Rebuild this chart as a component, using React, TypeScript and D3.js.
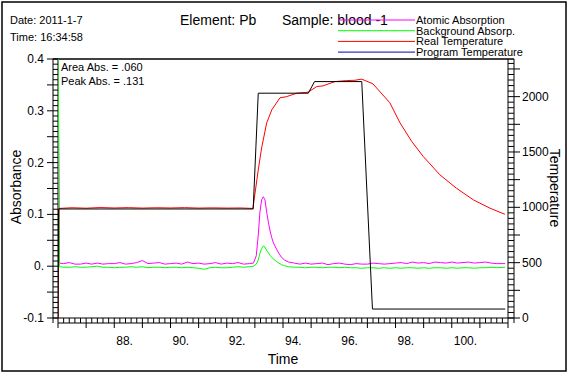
import React from "react";
import * as d3 from "d3";

// ---------- data ----------
const absTimes = [
  86.0, 86.05, 86.2, 86.4, 86.6, 86.8, 87.0, 87.2, 87.4, 87.6, 87.8, 88.0, 88.2, 88.4, 88.6, 88.8,
  89.0, 89.2, 89.4, 89.6, 89.8, 90.0, 90.2, 90.4, 90.6, 90.8, 91.0, 91.2, 91.4, 91.6, 91.8, 92.0,
  92.2, 92.4, 92.6, 92.8, 92.95, 93.05, 93.12, 93.18, 93.24, 93.3, 93.36, 93.42, 93.48, 93.54, 93.6,
  93.66, 93.75, 93.85, 93.95, 94.05, 94.2, 94.4, 94.6, 94.8, 95.0, 95.2, 95.4, 95.6, 95.8, 96.0,
  96.2, 96.4, 96.6, 96.8, 97.0, 97.2, 97.4, 97.6, 97.8, 98.0, 98.2, 98.4, 98.6, 98.8, 99.0, 99.2,
  99.4, 99.6, 99.8, 100.0, 100.2, 100.4, 100.6, 100.8, 101.0, 101.2, 101.4, 101.6, 101.9,
];
const atomicAbs = [
  0.45, 0.006, 0.005, 0.007, 0.004, 0.004, 0.006, 0.004, 0.006, 0.004, 0.005, 0.005, 0.007, 0.004, 0.005, 0.007,
  0.011, 0.005, 0.006, 0.007, 0.004, 0.005, 0.006, 0.004, 0.008, 0.005, 0.006, 0.004, 0.005, 0.007, 0.004, 0.006,
  0.005, 0.007, 0.004, 0.005, 0.006, 0.02, 0.06, 0.105, 0.128, 0.134, 0.128, 0.104, 0.085, 0.068, 0.055,
  0.045, 0.035, 0.025, 0.017, 0.012, 0.008, 0.006, 0.004, 0.006, 0.004, 0.005, 0.006, 0.003, 0.005, 0.006,
  0.004, 0.003, 0.005, 0.004, 0.004, 0.006, 0.005, 0.004, 0.005, 0.006, 0.007, 0.005, 0.008, 0.006, 0.007, 0.005,
  0.008, 0.007, 0.006, 0.008, 0.006, 0.007, 0.008, 0.006, 0.007, 0.008, 0.006, 0.005, 0.005,
];
const backgroundAbs = [
  0.45, -0.001, -0.002, -0.002, -0.001, -0.002, -0.002, -0.001, 0.0, -0.002, -0.002, -0.003, -0.002, -0.002, -0.001, -0.002,
  -0.001, -0.003, -0.002, -0.002, -0.003, -0.002, -0.002, -0.003, -0.002, -0.003, -0.004, -0.006, -0.003, -0.002, -0.003, -0.003,
  -0.002, -0.001, -0.002, -0.001, 0.0, 0.004, 0.012, 0.025, 0.034, 0.039, 0.037, 0.03, 0.026, 0.021, 0.017,
  0.014, 0.01, 0.006, 0.003, 0.001, -0.001, -0.002, -0.002, -0.003, -0.002, -0.002, -0.003, -0.002, -0.002, -0.003,
  -0.002, -0.003, -0.003, -0.004, -0.003, -0.003, -0.004, -0.003, -0.004, -0.003, -0.004, -0.003, -0.003, -0.004, -0.003, -0.004,
  -0.003, -0.003, -0.004, -0.003, -0.004, -0.003, -0.003, -0.004, -0.003, -0.003, -0.002, -0.003, -0.002,
];

const realTimes = [
  86.0, 86.03, 86.5, 87.0, 87.5, 88.0, 88.5, 89.0, 89.5, 90.0, 90.5, 91.0, 91.5, 92.0, 92.5, 92.93,
  93.12, 93.24, 93.42, 93.6, 93.89, 94.13, 94.49, 94.89, 95.2, 95.42, 95.85, 96.26, 96.56, 96.8,
  97.2, 97.8, 98.16, 98.58, 98.99, 99.58, 100.17, 100.77, 101.36, 101.89,
];
const realTemp = [
  0, 990, 996, 992, 998, 994, 997, 993, 996, 994, 997, 993, 995, 993, 994, 990,
  1338, 1537, 1763, 1880, 1989, 2000, 2031, 2040, 2091, 2097, 2136, 2145, 2148, 2158,
  2115, 1944, 1763, 1594, 1458, 1293, 1172, 1067, 992, 937,
];

const progTimes = [86.0, 86.02, 92.94, 93.12, 94.9, 95.12, 96.8, 97.18, 101.9];
const progTemp = [0, 985, 985, 2031, 2031, 2136, 2136, 81, 81];

const xLabelValues = [88, 90, 92, 94, 96, 98, 100];
const xLabels = ["88.", "90.", "92.", "94.", "96.", "98.", "100."];
const leftLabelValues = [-0.1, 0, 0.1, 0.2, 0.3, 0.4];
const leftLabels = ["-0.1", "0.", "0.1", "0.2", "0.3", "0.4"];
const rightLabelValues = [0, 500, 1000, 1500, 2000];
const rightLabels = ["0", "500", "1000", "1500", "2000"];

const legendNames = ["Atomic Absorption", "Background Absorp.", "Real Temperature", "Program Temperature"];
const legendColors = ["#ff00ff", "#00ff00", "#ff0000", "#0000c0"];

// ---------- layout ----------
const W = 569, H = 377;
const L = 58, R = 508, T = 59, B = 318;
const FONT = "'Liberation Sans', Arial, sans-serif";

export default function App() {
  const x = d3.scaleLinear().domain([86, 102]).range([L, R]);
  const yA = d3.scaleLinear().domain([-0.1, 0.4]).range([B, T]);
  const yT = d3.scaleLinear().domain([0, 2340]).range([B, T]);

  const absLine = (vals: number[]) =>
    d3.line<number>().x((_, i) => x(absTimes[i])).y((v) => yA(v))(vals) || "";
  const tempLine = (ts: number[], vals: number[]) =>
    d3.line<number>().x((_, i) => x(ts[i])).y((v) => yT(v))(vals) || "";

  const xMinor = d3.range(86, 102.0001, 0.2);
  const xMajor = d3.range(86, 102.0001, 1);
  const yMinor = d3.range(-0.1, 0.4001, 0.01);
  const yMajor = d3.range(-0.1, 0.4001, 0.05);
  const tMinor = d3.range(0, 2340.1, 50);
  const tMajor = d3.range(0, 2340.1, 250);

  const k = "#000";
  return (
    <div style={{ position: "absolute", left: 0, top: 0 }}>
      <svg width={W} height={H} style={{ display: "block", background: "#fff" }} fontFamily={FONT}>
        <defs>
          <clipPath id="plotclip">
            <rect x={L} y={T} width={R - L} height={B - T} />
          </clipPath>
        </defs>
        <rect x={2} y={2} width={564} height={369} fill="#fff" stroke={k} strokeWidth={1.5} />

        {/* header */}
        <text x={10} y={24} fontSize={11}>Date: 2011-1-7</text>
        <text x={10} y={41} fontSize={11}>Time: 16:34:58</text>
        <text x={180} y={25} fontSize={14}>Element: Pb</text>
        <text x={282} y={25} fontSize={14}>Sample: blood -1</text>
        {legendNames.map((n, i) => (
          <g key={n}>
            <line x1={338} x2={415} y1={20 + i * 10.7} y2={20 + i * 10.7} stroke={legendColors[i]} strokeWidth={1} />
            <text x={416} y={20 + i * 10.7 + 4} fontSize={11}>{n}</text>
          </g>
        ))}

        {/* frame top */}
        <line x1={53} x2={514} y1={T} y2={T} stroke={k} strokeWidth={1.5} />

        {/* left ladder */}
        <line x1={53} x2={53} y1={T} y2={B + 5} stroke={k} />
        <line x1={L} x2={L} y1={T} y2={B} stroke={k} />
        {yMinor.map((v, i) => (
          <line key={"ym" + i} x1={53} x2={L} y1={yA(v)} y2={yA(v)} stroke={k} />
        ))}
        {yMajor.map((v, i) => (
          <line key={"yM" + i} x1={47} x2={53} y1={yA(v)} y2={yA(v)} stroke={k} />
        ))}
        {leftLabelValues.map((v, i) => (
          <text key={"yl" + i} x={44} y={yA(v) + 4} fontSize={12} textAnchor="end">{leftLabels[i]}</text>
        ))}

        {/* right ladder */}
        <line x1={R} x2={R} y1={T} y2={B} stroke={k} />
        <line x1={514} x2={514} y1={T} y2={B + 5} stroke={k} />
        {tMinor.map((v, i) => (
          <line key={"tm" + i} x1={R} x2={514} y1={yT(v)} y2={yT(v)} stroke={k} />
        ))}
        {tMajor.map((v, i) => (
          <line key={"tM" + i} x1={514} x2={520} y1={yT(v)} y2={yT(v)} stroke={k} />
        ))}
        {rightLabelValues.map((v, i) => (
          <text key={"tl" + i} x={522} y={yT(v) + 4} fontSize={12}>{rightLabels[i]}</text>
        ))}

        {/* bottom ladder */}
        <line x1={53} x2={514} y1={B} y2={B} stroke={k} />
        <line x1={L} x2={R} y1={B + 5} y2={B + 5} stroke={k} />
        {xMinor.map((v, i) => (
          <line key={"xm" + i} x1={x(v)} x2={x(v)} y1={B} y2={B + 5} stroke={k} />
        ))}
        {xMajor.map((v, i) => (
          <line key={"xM" + i} x1={x(v)} x2={x(v)} y1={B + 5} y2={B + 10} stroke={k} />
        ))}
        {xLabelValues.map((v, i) => (
          <text key={"xl" + i} x={x(v) + 2} y={345} fontSize={12}>{xLabels[i]}</text>
        ))}

        {/* axis titles */}
        <text x={283} y={364} fontSize={14} textAnchor="middle">Time</text>
        <text transform={`translate(21,187) rotate(-90)`} fontSize={14} textAnchor="middle">Absorbance</text>
        <text transform={`translate(550,188) rotate(90)`} fontSize={14} textAnchor="middle">Temperature</text>

        {/* series */}
        <g clipPath="url(#plotclip)" fill="none" strokeWidth={1}>
          <path d={absLine(atomicAbs)} stroke="#ff00ff" />
          <path d={absLine(backgroundAbs)} stroke="#00ff00" />
          <path d={tempLine(realTimes, realTemp)} stroke="#ff0000" />
          <path d={tempLine(progTimes, progTemp)} stroke="#000" />
        </g>

        <text x={61} y={71} fontSize={11}>Area Abs. = .060</text>
        <text x={61} y={85} fontSize={11}>Peak Abs. = .131</text>
      </svg>
    </div>
  );
}
